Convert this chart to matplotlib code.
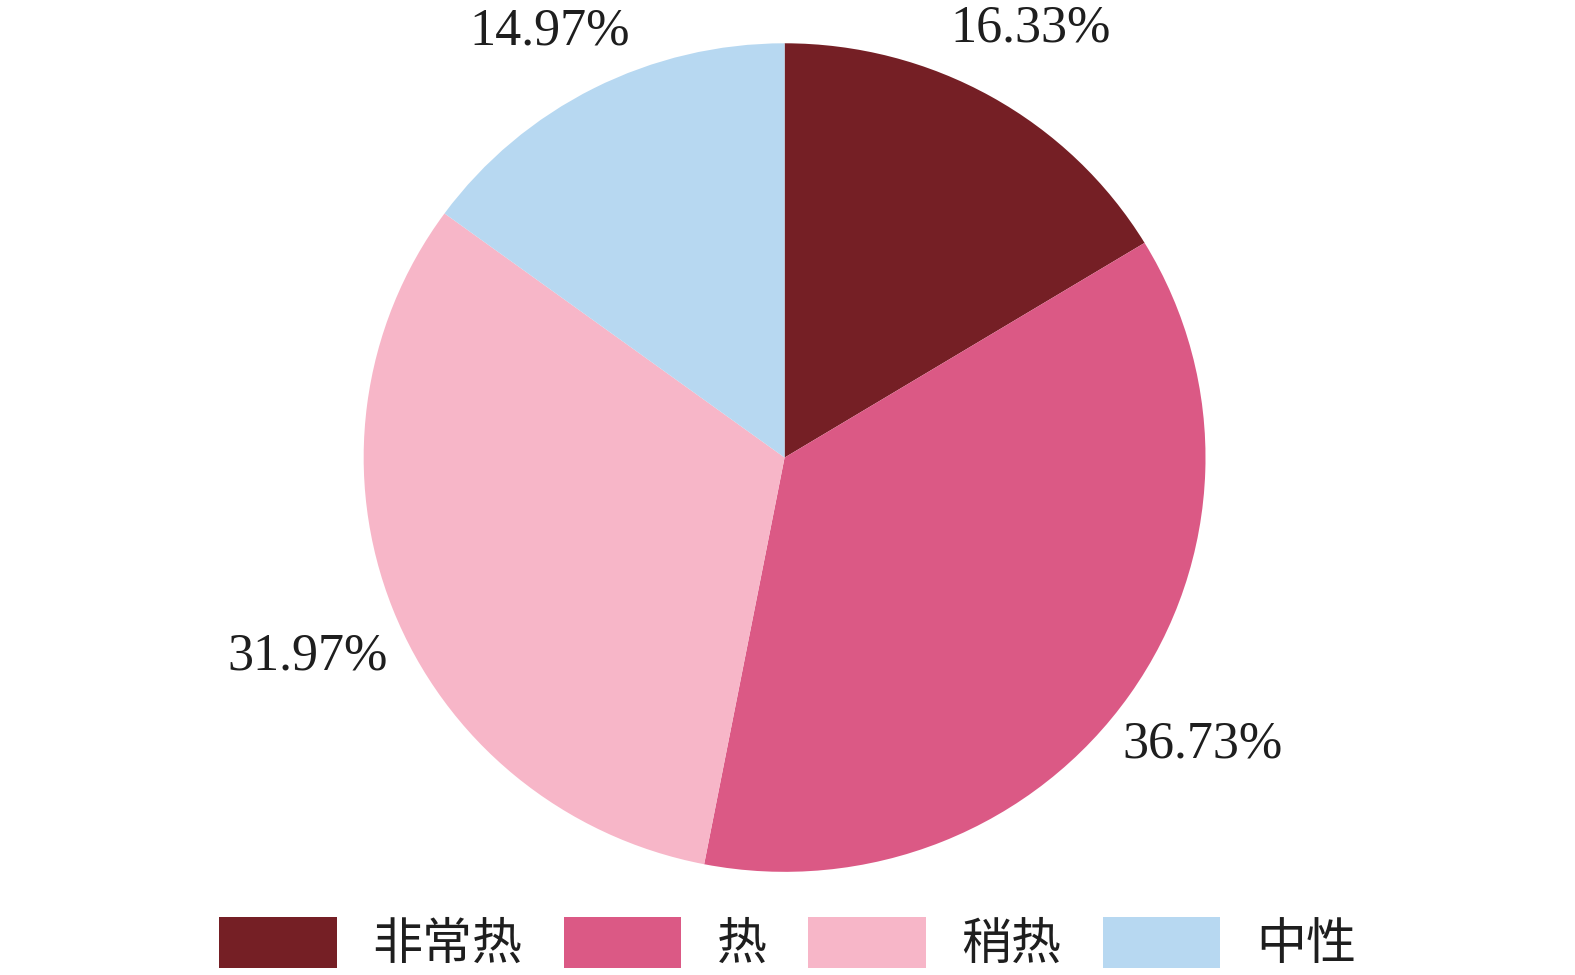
import matplotlib
matplotlib.use('Agg')
import matplotlib.pyplot as plt
import numpy as np

# --- Data ---
categories = ['非常热', '热', '稍热', '中性']
shares = [16.33, 36.73, 31.97, 14.97]
colors = ['#751F25', '#DB5985', '#F7B6C8', '#B7D8F1']

# label distance from centre (fraction of radius) for each wedge label
label_dist = [1.19, 1.21, 1.23, 1.17]
label_turn = [0, 0, 1.5, 1.5]   # small angular nudge, degrees

plt.rcParams['font.family'] = ['Liberation Serif', 'Noto Sans CJK SC']

fig = plt.figure(figsize=(15.75, 9.75), dpi=100)
ax = fig.add_axes([0.2309, 0.1058, 0.5345, 0.8498])

wedges, texts, autotexts = ax.pie(
    shares, colors=colors, startangle=90, counterclock=False,
    autopct='%.2f%%', pctdistance=1.2,
    wedgeprops=dict(linewidth=0),
    textprops=dict(fontsize=37.5, color='#1e1e1e'),
)
# place each percentage label along the wedge's mid angle
for w, t, d, a in zip(wedges, autotexts, label_dist, label_turn):
    ang = np.deg2rad((w.theta1 + w.theta2) / 2 + a)
    t.set_position((d * np.cos(ang), d * np.sin(ang)))

ax.set_aspect('auto')
ax.set_xlim(-1, 1)
ax.set_ylim(-1, 1)

leg = fig.legend(
    wedges, categories, loc='center', bbox_to_anchor=(0.5, 0.032),
    ncol=4, frameon=False, borderpad=0,
    handlelength=2.35, handleheight=1.2, handletextpad=0.72,
    columnspacing=0.82,
    prop=dict(family=['Noto Sans CJK SC'], size=36, weight='light'),
)
for t in leg.get_texts():
    t.set_color('#1e1e1e')

fig.savefig('out.png', dpi=100)
